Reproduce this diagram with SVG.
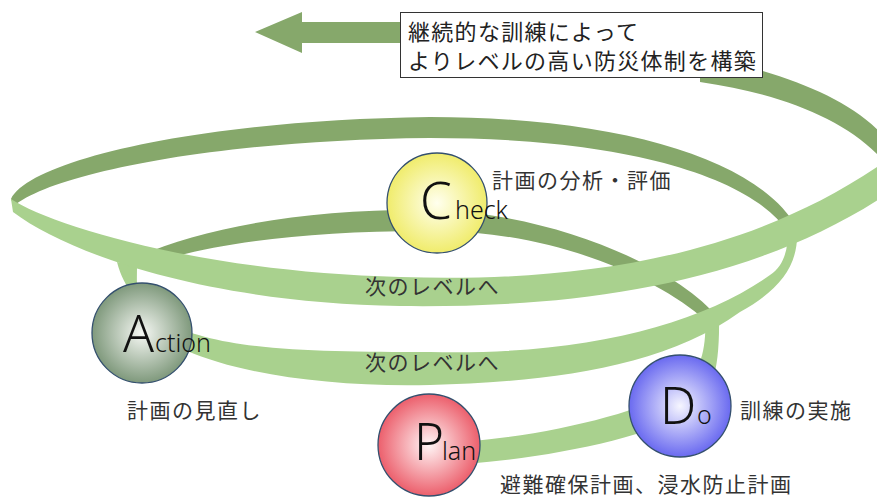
<svg xmlns="http://www.w3.org/2000/svg" width="877" height="497" viewBox="0 0 877 497">
<defs>
<style>
.dark{fill:#86a86b}
.light{fill:#a9d18e}
.ring{stroke:#34506e;stroke-width:1.3}
.big{font-family:"Noto Sans","Liberation Sans",sans-serif;font-weight:300;font-size:51px;fill:#111}
.sm{font-family:"Noto Sans","Liberation Sans",sans-serif;font-weight:300;font-size:25px;fill:#111}
.lbl{font-family:"Noto Sans CJK JP","Noto Sans CJK SC",sans-serif;font-size:21px;letter-spacing:1.5px;fill:#333}
.box{font-family:"Noto Sans CJK JP","Noto Sans CJK SC",sans-serif;font-size:22px;letter-spacing:1.3px;fill:#222}
</style>
<radialGradient id="gC" cx="50%" cy="50%" r="50%"><stop offset="0" stop-color="#ffffee"/><stop offset="1" stop-color="#f0ec6c"/></radialGradient>
<radialGradient id="gA" cx="50%" cy="50%" r="50%"><stop offset="0" stop-color="#f6f8f4"/><stop offset="1" stop-color="#7f997c"/></radialGradient>
<radialGradient id="gD" cx="50%" cy="50%" r="50%"><stop offset="0" stop-color="#f6f6ff"/><stop offset="1" stop-color="#6a6af0"/></radialGradient>
<radialGradient id="gP" cx="50%" cy="50%" r="50%"><stop offset="0" stop-color="#fff6f6"/><stop offset="1" stop-color="#ec5f6c"/></radialGradient>
</defs>
<rect width="877" height="497" fill="#ffffff"/>
<g id="connectors">
<path class="dark" d="M700,55 C790,75 860,100 895,150 L895,175 C860,125 790,95 700,82 Z"/>
<path class="dark" d="M255,32 L302,12 L302,22 L420,22 L420,43 L302,43 L302,53 Z"/>
<path class="dark" d="M797,228 C760,160 620,117 430,117 C200,120 30,160 11,199 L14,206 C50,175 210,140 430,138 C620,138 750,175 788,232 Z"/>
<path class="dark" d="M718,318 C680,270 560,215 437,210 C300,208 190,230 127,262 L137,268 C200,245 300,230 437,231 C560,232 660,280 705,320 Z"/>
<path class="light" d="M429,466 C520,463 640,442 690,412 C712,398 720,370 719,316 L705,316 C707,350 700,372 682,388 C630,418 520,441 429,444 Z"/>
<path class="light" d="M117,262 C140,350 260,352 430,352 C580,356 700,325 770,275 C785,265 788,248 788,230 L797,230 C799,265 780,290 740,312 C660,370 540,382 430,385 C300,388 180,365 140,320 C136,300 137,280 137,266 Z"/>
<path class="light" d="M11,199 C50,225 200,272 400,277 C560,282 740,265 890,158 L890,192 C745,290 560,308 400,306 C210,303 70,255 13,212 Z"/>
</g>
<g id="goal">
<rect x="400.5" y="12.5" width="362" height="65" fill="#ffffff" stroke="#333333" stroke-width="1"/>
<text class="box" x="408" y="40">継続的な訓練によって</text>
<text class="box" x="408" y="69">よりレベルの高い防災体制を構築</text>
</g>
<g id="level-labels">
<text class="lbl" x="365" y="294">次のレベルへ</text>
<text class="lbl" x="365" y="370">次のレベルへ</text>
</g>
<g id="check">
<circle class="ring" cx="437" cy="203" r="50" fill="url(#gC)"/>
<text class="big" x="420" y="219">C</text>
<text class="sm" x="455" y="219">heck</text>
<text class="lbl" x="492" y="188">計画の分析・評価</text>
</g>
<g id="action">
<circle class="ring" cx="142" cy="333" r="50" fill="url(#gA)"/>
<text class="big" x="123" y="352">A</text>
<text class="sm" x="155" y="352">ction</text>
<text class="lbl" x="127" y="418">計画の見直し</text>
</g>
<g id="do">
<circle class="ring" cx="680" cy="406" r="51" fill="url(#gD)"/>
<text class="big" x="660" y="424">D</text>
<text class="sm" x="697" y="424">o</text>
<text class="lbl" x="740" y="418">訓練の実施</text>
</g>
<g id="plan">
<circle class="ring" cx="429" cy="445" r="51" fill="url(#gP)"/>
<text class="big" x="414" y="460">P</text>
<text class="sm" x="442" y="460">lan</text>
<text class="lbl" x="500" y="492">避難確保計画、浸水防止計画</text>
</g>
</svg>
